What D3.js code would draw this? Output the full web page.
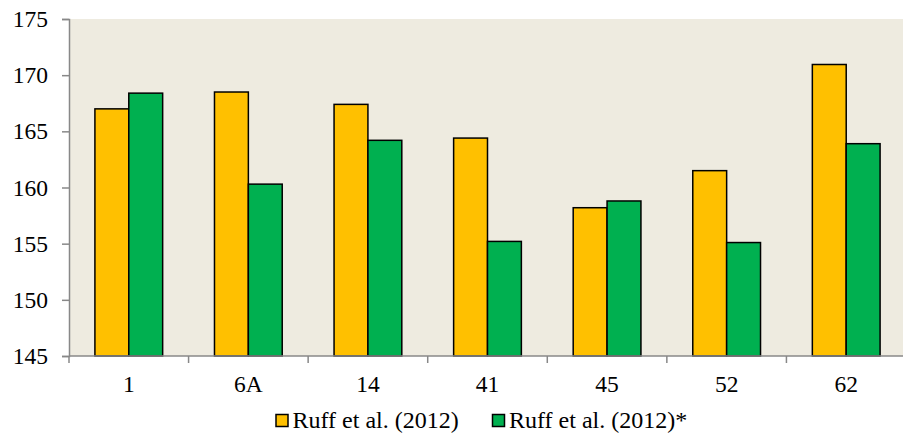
<!DOCTYPE html>
<html><head><meta charset="utf-8">
<script src="https://cdn.jsdelivr.net/npm/d3@7"></script>
<style>body{margin:0;background:#fff}svg{display:block}</style>
</head><body><div id="c"></div>
<script>
const categories = ["1","6A","14","41","45","52","62"];
const seriesNames = ["Ruff et al. (2012)","Ruff et al. (2012)*"];
const ruff2012 = [167.0,168.5,167.4,164.4,158.2,161.5,170.95];
const ruff2012star = [168.4,160.3,164.2,155.2,158.8,155.1,163.9];
const yTicks = [145,150,155,160,165,170,175];
const colors = ["#FFC000","#00B050"];

(function(){
const FONT="Liberation Serif, Times New Roman, serif";
const FS=23.5, LFS=24;
const W=903,H=433;
const mLeft=69,mRight=906,mTop=19,mBottom=356;
const svg=d3.select("#c").append("svg").attr("width",W).attr("height",H);
const x0=d3.scaleBand().domain(categories).range([mLeft,mRight]).padding(0);
const x1=d3.scaleBand().domain(seriesNames).range([0,x0.bandwidth()]).paddingInner(0).paddingOuter(0.765);
const y=d3.scaleLinear().domain([145,175]).range([mBottom,mTop]);

svg.append("rect").attr("x",mLeft).attr("y",mTop).attr("width",mRight-mLeft).attr("height",mBottom-mTop).attr("fill","#EEEBE0");

const data=categories.map((c,i)=>({c,vals:[ruff2012[i],ruff2012star[i]]}));
const g=svg.append("g");
data.forEach(d=>{
  d.vals.forEach((v,j)=>{
    g.append("rect")
      .attr("x",x0(d.c)+x1(seriesNames[j]))
      .attr("y",y(v))
      .attr("width",x1.bandwidth())
      .attr("height",y(145)-y(v))
      .attr("fill",colors[j]).attr("stroke","#000").attr("stroke-width",1.5);
  });
});

// y axis
const ya=svg.append("g").attr("transform",`translate(${mLeft},0)`)
  .call(d3.axisLeft(y).tickValues(yTicks).tickSize(7).tickPadding(14).tickFormat(d3.format("d")));
ya.attr("font-family",FONT).attr("font-size",FS);
ya.select(".domain").attr("stroke","#888").attr("stroke-width",1.5);
ya.selectAll(".tick line").attr("stroke","#888").attr("stroke-width",1.5);
ya.selectAll(".tick text").attr("fill","#000");

// x axis
svg.append("line").attr("x1",mLeft).attr("x2",mRight).attr("y1",mBottom).attr("y2",mBottom).attr("stroke","#888").attr("stroke-width",1.5);
const bounds=categories.map(c=>x0(c)).concat([mRight]);
svg.selectAll(".xt").data(bounds).enter().append("line")
  .attr("x1",d=>d).attr("x2",d=>d).attr("y1",mBottom).attr("y2",mBottom+7).attr("stroke","#888").attr("stroke-width",1.5);
svg.selectAll(".xl").data(categories).enter().append("text")
  .attr("x",d=>x0(d)+x0.bandwidth()/2).attr("y",392).attr("text-anchor","middle")
  .attr("font-family",FONT).attr("font-size",FS).text(d=>d);

// legend
const legX=[276,492.5];
seriesNames.forEach((s,j)=>{
  svg.append("rect").attr("x",legX[j]).attr("y",414.5).attr("width",12).attr("height",12)
    .attr("fill",colors[j]).attr("stroke","#000").attr("stroke-width",1.5);
  svg.append("text").attr("x",legX[j]+16.5).attr("y",427.5)
    .attr("font-family",FONT).attr("font-size",LFS).text(s);
});
})();
</script></body></html>
